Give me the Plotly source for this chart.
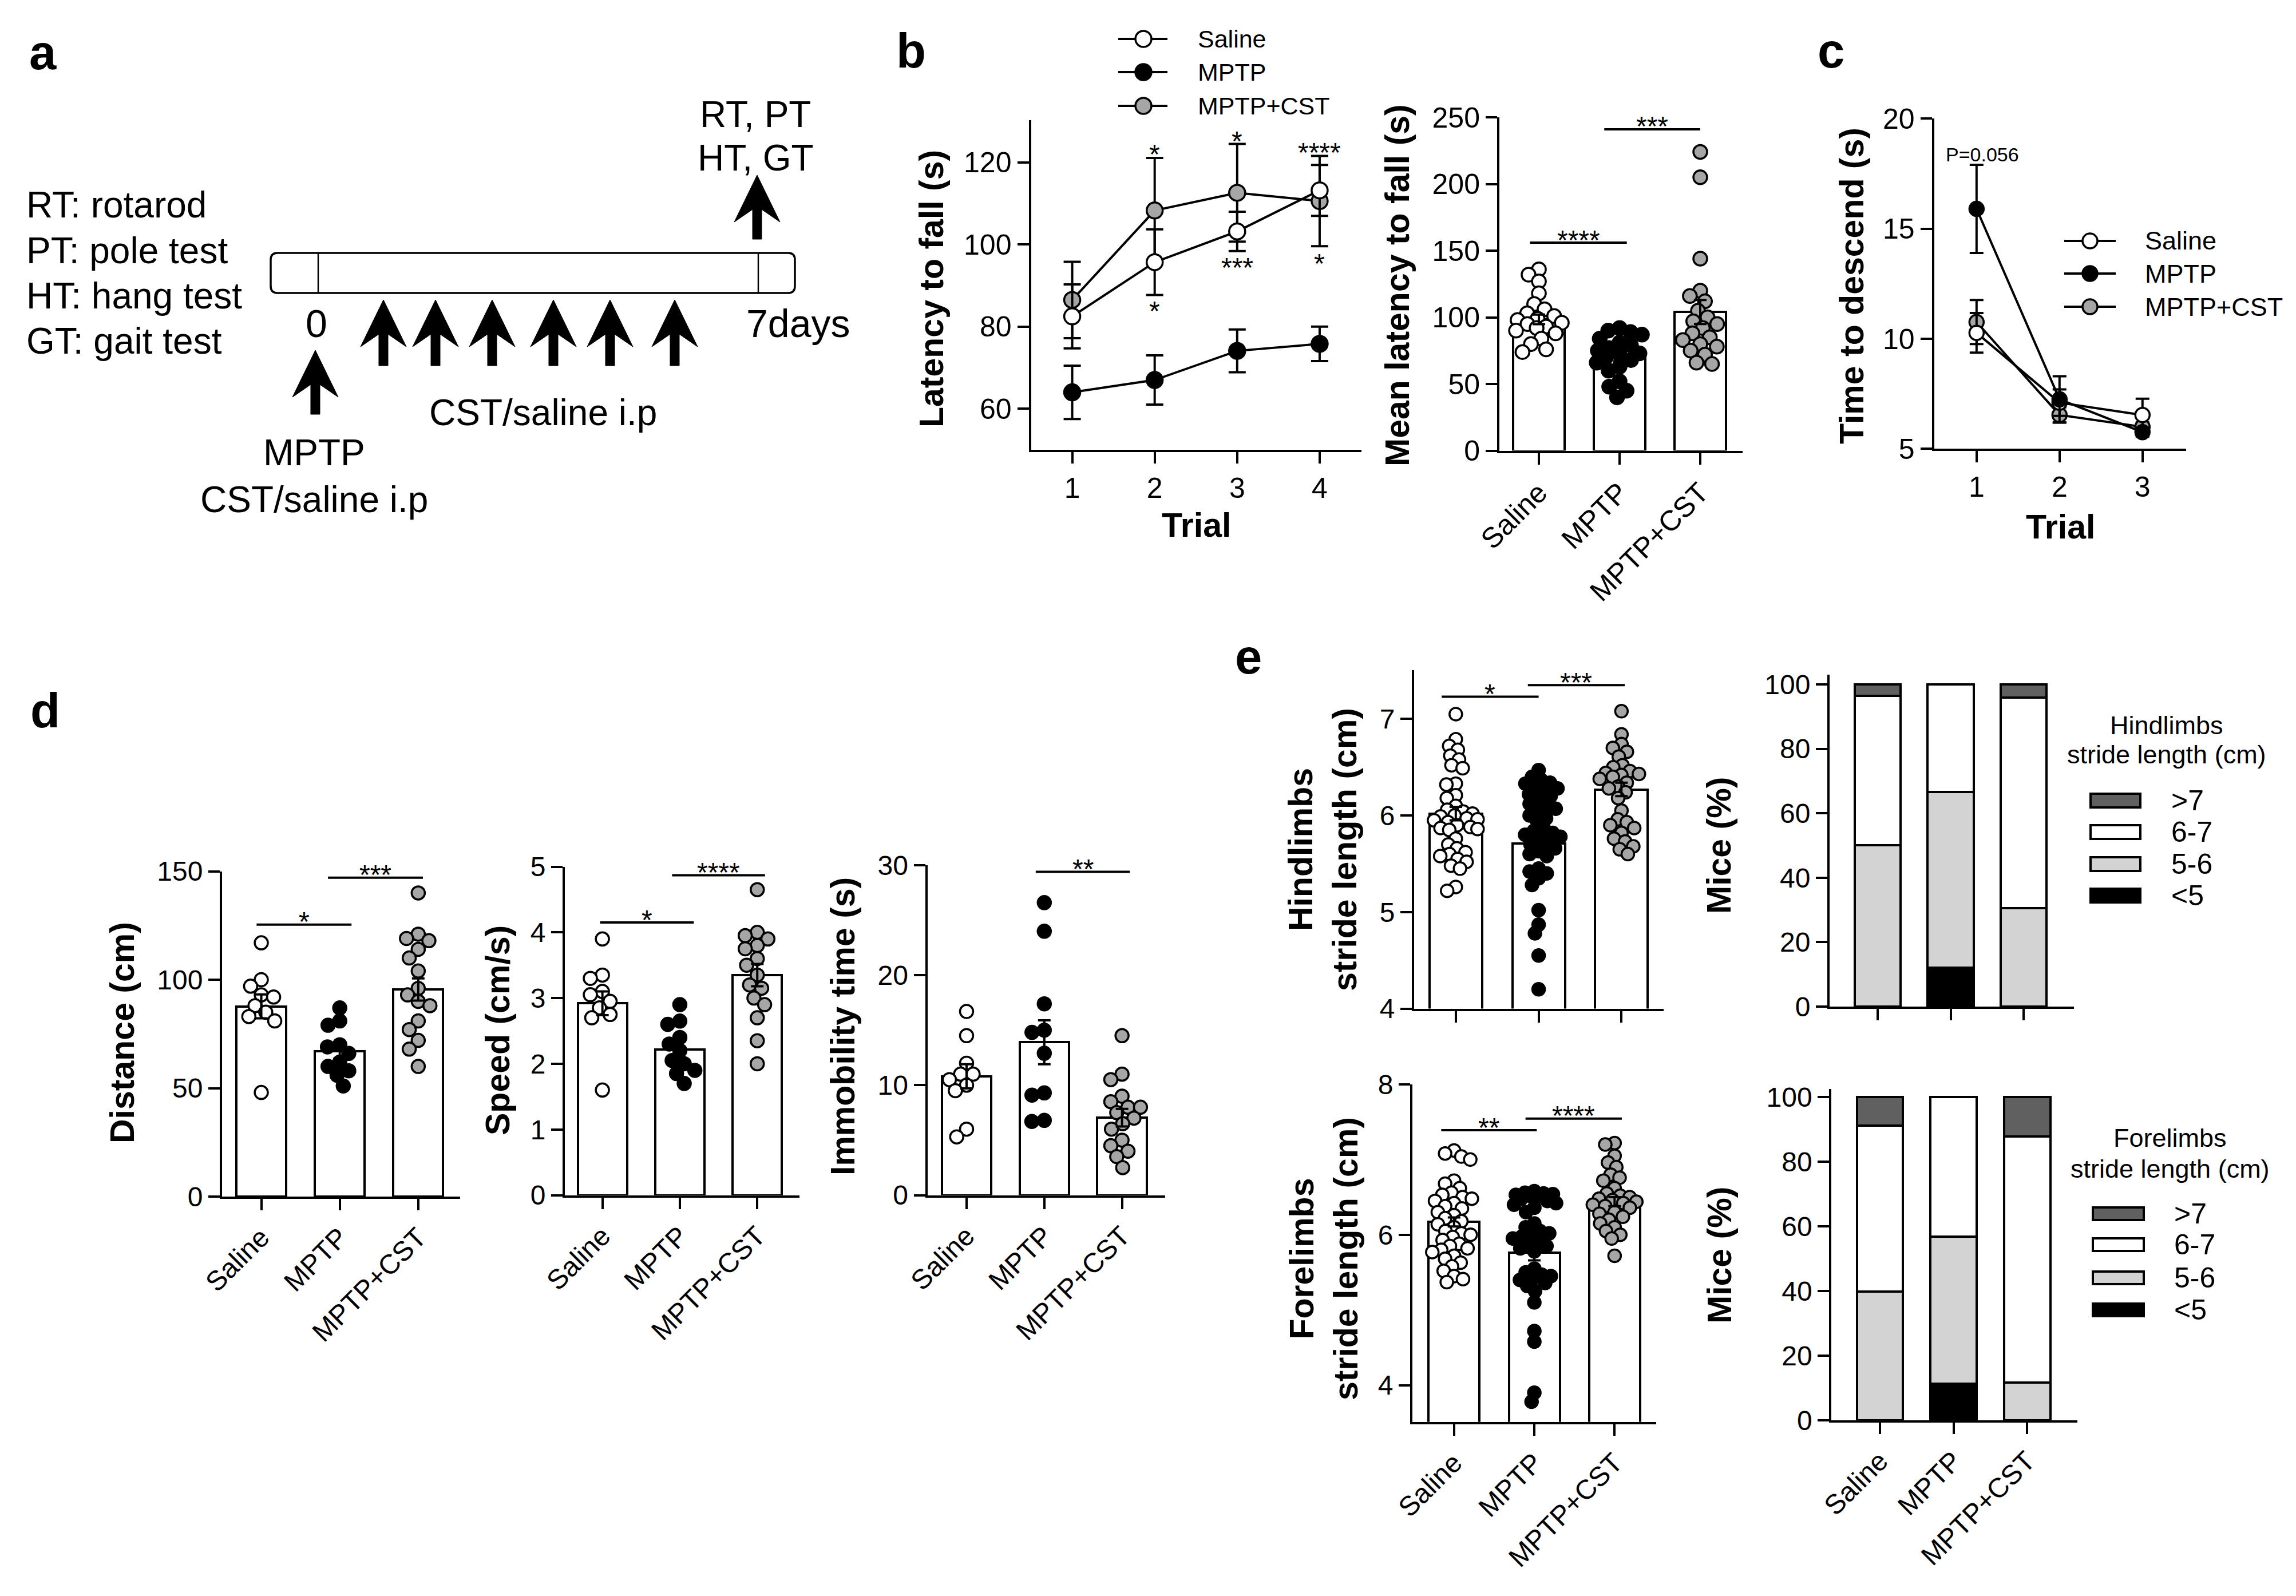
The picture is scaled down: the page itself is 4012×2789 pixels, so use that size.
import plotly.graph_objects as go

W, H = 4012, 2789
FONT = "Liberation Sans, Arial, Helvetica, sans-serif"
GRAY = "#a6a6a6"
LW = 4

GROUPS = ["Saline", "MPTP", "MPTP+CST"]
GROUP_FILL = ["white", "black", GRAY]
GROUP_POS = [0, 1, 2]

# ---------------- (b) rotarod ----------------
TRIALS_B = [1, 2, 3, 4]
ROT_SALINE = [82.5, 95.7, 103.2, 113.2]
ROT_SALINE_SEM = [7.8, 8.0, 4.8, 6.2]
ROT_MPTP = [64.0, 67.0, 74.1, 75.8]
ROT_MPTP_SEM = [6.5, 6.0, 5.2, 4.2]
ROT_CST = [86.5, 108.3, 112.6, 110.6]
ROT_CST_SEM = [9.3, 12.8, 11.9, 11.0]
ROT_STAR_TRIAL = [2, 2, 3, 3, 4, 4]
ROT_STAR_Y = [123.3, 85.0, 126.4, 95.7, 123.7, 96.7]
ROT_STAR_TEXT = ["*", "*", "*", "***", "****", "*"]

MEANLAT_SALINE = [136, 132, 127, 118, 110, 106, 103, 101, 99, 98, 96, 95, 93, 92, 90, 88, 84, 80, 76, 74]
MEANLAT_MPTP = [92, 90, 89, 87, 84, 81, 79, 77, 75, 73, 72, 70, 68, 66, 63, 60, 52, 48, 45, 40]
MEANLAT_CST = [224, 205, 144, 120, 116, 112, 105, 100, 97, 95, 92, 88, 85, 83, 80, 78, 75, 72, 66, 65]
MEANLAT_BAR = [98.5, 70.0, 104.0]
MEANLAT_SEM = [3.6, 2.9, 9.0]
MEANLAT_SIG = [(-0.11, 1.09, 156, "****"), (0.81, 2.0, 241, "***")]

# ---------------- (c) pole test ----------------
TRIALS_C = [1, 2, 3]
POLE_SALINE = [10.27, 7.10, 6.54]
POLE_SALINE_SEM = [0.90, 0.60, 0.74]
POLE_MPTP = [15.90, 7.25, 5.76]
POLE_MPTP_SEM = [2.00, 1.05, 0.20]
POLE_CST = [10.76, 6.54, 6.00]
POLE_CST_SEM = [1.00, 0.35, 0.20]

# ---------------- (d) open field ----------------
DIST_SALINE = [117, 100, 97, 93, 92, 88, 85, 83, 81, 48]
DIST_MPTP = [87, 81, 79, 70, 69, 66, 62, 60, 58, 56, 51]
DIST_CST = [140, 121, 119, 118, 114, 110, 104, 96, 93, 90, 88, 81, 77, 72, 68, 60]
DIST_BAR = [87.7, 67.0, 95.5]
DIST_SEM = [5.5, 3.3, 5.1]
DIST_SIG = [(-0.06, 1.15, 125.4, "*"), (0.85, 2.06, 147, "***")]

SPEED_SALINE = [3.90, 3.35, 3.30, 3.10, 3.05, 2.95, 2.85, 2.75, 2.70, 1.60]
SPEED_MPTP = [2.90, 2.65, 2.60, 2.40, 2.30, 2.20, 2.05, 2.00, 1.90, 1.85, 1.70]
SPEED_CST = [4.65, 4.00, 3.95, 3.90, 3.80, 3.75, 3.60, 3.50, 3.35, 3.20, 3.15, 3.00, 2.90, 2.70, 2.35, 2.00]
SPEED_BAR = [2.92, 2.22, 3.35]
SPEED_SEM = [0.18, 0.12, 0.17]
SPEED_SIG = [(-0.03, 1.18, 4.15, "*"), (0.90, 2.10, 4.87, "****")]

IMMOB_SALINE = [16.7, 14.5, 12.0, 11.0, 11.0, 10.5, 10.0, 9.5, 6.0, 5.3]
IMMOB_MPTP = [26.6, 24.0, 17.4, 15.0, 14.8, 12.9, 9.3, 9.1, 6.8, 6.7]
IMMOB_CST = [14.5, 11.0, 10.5, 9.0, 8.5, 8.0, 8.0, 7.5, 7.0, 6.5, 6.0, 5.0, 4.5, 4.0, 3.5, 2.5]
IMMOB_BAR = [10.8, 13.9, 7.05]
IMMOB_SEM = [1.1, 2.0, 0.8]
IMMOB_SIG = [(0.89, 2.10, 29.4, "**")]

# ---------------- (e) gait ----------------
HIND_SALINE = [7.05, 6.79, 6.72, 6.68, 6.62, 6.58, 6.52, 6.49, 6.33, 6.32, 6.21, 6.18, 6.10, 6.06,
               6.04, 6.02, 6.00, 5.99, 5.97, 5.96, 5.95, 5.93, 5.90, 5.88, 5.87, 5.86, 5.85, 5.76,
               5.70, 5.66, 5.62, 5.60, 5.58, 5.55, 5.52, 5.48, 5.45, 5.26, 5.22]
HIND_MPTP = [6.47, 6.40, 6.37, 6.34, 6.33, 6.30, 6.28, 6.25, 6.22, 6.20, 6.15, 6.12, 6.10, 6.07,
             6.03, 6.00, 5.97, 5.93, 5.86, 5.84, 5.82, 5.80, 5.78, 5.75, 5.72, 5.70, 5.66, 5.63,
             5.60, 5.58, 5.45, 5.42, 5.40, 5.35, 5.28, 5.02, 4.87, 4.78, 4.55, 4.20]
HIND_CST = [7.08, 6.84, 6.74, 6.70, 6.66, 6.61, 6.52, 6.50, 6.46, 6.44, 6.43, 6.42, 6.40, 6.38,
            6.34, 6.30, 6.28, 6.24, 6.18, 6.05, 5.96, 5.93, 5.90, 5.87, 5.82, 5.76, 5.73, 5.68,
            5.65, 5.60]
HIND_BAR = [6.02, 5.71, 6.27]
HIND_SEM = [0.07, 0.08, 0.07]
HIND_SIG = [(-0.17, 1.0, 7.23, "*"), (0.87, 2.04, 7.35, "***")]

FORE_SALINE = [7.12, 7.08, 7.04, 7.00, 6.72, 6.68, 6.62, 6.56, 6.53, 6.50, 6.48, 6.45, 6.42, 6.38,
               6.35, 6.30, 6.26, 6.22, 6.18, 6.14, 6.10, 6.05, 6.02, 6.00, 5.97, 5.93, 5.88, 5.85,
               5.82, 5.80, 5.77, 5.72, 5.68, 5.63, 5.58, 5.52, 5.45, 5.41, 5.37]
FORE_MPTP = [6.58, 6.56, 6.55, 6.54, 6.53, 6.52, 6.50, 6.48, 6.45, 6.42, 6.40, 6.36, 6.30, 6.15,
             6.10, 6.05, 6.02, 6.00, 5.98, 5.95, 5.92, 5.88, 5.85, 5.82, 5.78, 5.55, 5.50, 5.47,
             5.45, 5.42, 5.40, 5.36, 5.32, 5.25, 5.10, 4.72, 4.58, 3.90, 3.78]
FORE_CST = [7.22, 7.20, 7.05, 6.96, 6.90, 6.80, 6.76, 6.72, 6.62, 6.55, 6.52, 6.50, 6.48, 6.46,
            6.44, 6.42, 6.40, 6.38, 6.36, 6.30, 6.28, 6.24, 6.20, 6.15, 6.10, 6.05, 6.00, 5.95, 5.72]
FORE_BAR = [6.17, 5.76, 6.44]
FORE_SEM = [0.06, 0.10, 0.06]
FORE_SIG = [(-0.16, 1.03, 7.39, "**"), (0.89, 2.09, 7.545, "****")]

STRIDE_BINS = [">7", "6-7", "5-6", "<5"]
STRIDE_COLORS = ["#606060", "white", "#d3d3d3", "black"]
HIND_PCT_GT7 = [3.5, 0.0, 4.1]
HIND_PCT_6_7 = [46.5, 33.4, 65.4]
HIND_PCT_5_6 = [50.0, 54.6, 30.5]
HIND_PCT_LT5 = [0.0, 12.0, 0.0]
FORE_PCT_GT7 = [8.8, 0.0, 12.3]
FORE_PCT_6_7 = [51.4, 43.2, 76.0]
FORE_PCT_5_6 = [39.8, 45.5, 11.7]
FORE_PCT_LT5 = [0.0, 11.3, 0.0]

# =====================================================================
fig = go.Figure()
layout = dict(template="none", width=W, height=H, autosize=False,
              margin=dict(l=0, r=0, t=0, b=0, pad=0),
              paper_bgcolor="white", plot_bgcolor="rgba(0,0,0,0)", showlegend=False,
              barmode="stack", font=dict(family=FONT, color="black"))
shapes = []
annotations = []
AX = {}


def P(x, y):
    return f"{x / W:.5f},{1 - y / H:.5f}"


def pann(text, x, y, size, xanchor="center", yanchor="middle", angle=0):
    annotations.append(dict(xref="paper", yref="paper", x=x / W, y=1 - y / H, text=text,
                            showarrow=False, textangle=angle, xanchor=xanchor, yanchor=yanchor,
                            font=dict(size=size, family=FONT, color="black")))


def axis(n, box, xr, yr, yticks, xticks, xtext=None, show_xlabels=True, tfont=48, xangle=0):
    l, t, r, b = box
    AX[n] = (box, xr, yr)
    s = "" if n == 1 else str(n)
    common = dict(showline=True, linewidth=LW, linecolor="black", ticks="outside", ticklen=20,
                  tickwidth=LW, tickcolor="black", showgrid=False, zeroline=False,
                  tickmode="array", fixedrange=True, automargin=False,
                  tickfont=dict(size=tfont, family=FONT, color="black"))
    layout["xaxis" + s] = dict(domain=[l / W, r / W], range=xr, anchor="y" + s,
                               tickvals=xticks, ticktext=xtext, showticklabels=show_xlabels,
                               tickangle=xangle, **common)
    layout["yaxis" + s] = dict(domain=[1 - b / H, 1 - t / H], range=yr, anchor="x" + s,
                               tickvals=yticks, **common)
    return "x" + s, "y" + s


def swarm(values, center, n, diam, spacing, maxhalf):
    box, xr, yr = AX[n]
    ppx = (box[2] - box[0]) / (xr[1] - xr[0])
    ppy = (box[3] - box[1]) / (yr[1] - yr[0])
    D = diam * spacing
    placed = []
    xs = [0.0] * len(values)
    order = sorted(range(len(values)), key=lambda i: -values[i])
    for i in order:
        yp = values[i] * ppy
        cands = [0.0]
        for xq, yq in placed:
            dy = abs(yp - yq)
            if dy < D:
                dx = (D * D - dy * dy) ** 0.5
                cands += [xq + dx, xq - dx]
        best = None
        for c in sorted(cands, key=lambda v: (abs(v), v)):
            if abs(c) > maxhalf:
                continue
            if all((c - xq) ** 2 + (yp - yq) ** 2 >= D * D - 1e-6 for xq, yq in placed):
                best = c
                break
        if best is None:
            grid = [maxhalf * k / 10.0 for k in range(-10, 11)]
            best = max(grid, key=lambda c: min((c - xq) ** 2 + (yp - yq) ** 2 for xq, yq in placed))
        placed.append((best, yp))
        xs[i] = center + best / ppx
    return xs


def bar_panel(n, refs, bar, sem, pts, sig, diam, spacing, maxhalf, star_size=48):
    xa, ya = refs
    fig.add_bar(x=GROUP_POS, y=bar, width=0.635, xaxis=xa, yaxis=ya,
                marker=dict(color="white", line=dict(color="black", width=LW)))
    for g, vals in enumerate(pts):
        xs = swarm(vals, GROUP_POS[g], n, diam, spacing, maxhalf)
        fig.add_scatter(x=xs, y=vals, mode="markers", xaxis=xa, yaxis=ya, name=GROUPS[g],
                        marker=dict(size=diam, color=GROUP_FILL[g], line=dict(color="black", width=3.5)))
    fig.add_scatter(x=GROUP_POS, y=bar, mode="markers", xaxis=xa, yaxis=ya,
                    marker=dict(size=2, color="rgba(0,0,0,0)"),
                    error_y=dict(type="data", array=sem, color="black", thickness=LW, width=11))
    for (x0, x1, y, txt) in sig:
        shapes.append(dict(type="line", xref=xa, yref=ya, x0=x0, x1=x1, y0=y, y1=y,
                           line=dict(color="black", width=LW)))
        annotations.append(dict(xref=xa, yref=ya, x=(x0 + x1) / 2, y=y, text=txt, showarrow=False,
                                yanchor="middle", yshift=5,
                                font=dict(size=star_size, family=FONT, color="black")))


def mice_panel(refs, segs):
    xa, ya = refs
    for vals, col, name in reversed(list(zip(segs, STRIDE_COLORS, STRIDE_BINS))):
        fig.add_bar(x=GROUP_POS, y=vals, width=0.63, xaxis=xa, yaxis=ya, name=name,
                    marker=dict(color=col, line=dict(color="black", width=LW)))


# ---------------- axes ----------------
bl = axis(1, (1801.5, 210, 2379, 786), [0.5, 4.507], [50, 130.3], [60, 80, 100, 120], TRIALS_B,
          [str(t) for t in TRIALS_B], tfont=50)
br = axis(2, (2620, 205, 3045, 787.6), [-0.49, 2.525], [0, 250], [0, 50, 100, 150, 200, 250],
          GROUP_POS, GROUPS, tfont=50, xangle=-45)
cc = axis(3, (3379.6, 207.3, 3820, 784.4), [0.488, 3.526], [5, 20], [5, 10, 15, 20], TRIALS_C,
          [str(t) for t in TRIALS_C], tfont=50)
dd = axis(4, (388, 1522.5, 803.5, 2091), [-0.5, 2.53], [0, 150], [0, 50, 100, 150], GROUP_POS,
          GROUPS, xangle=-45)
ds = axis(5, (987, 1514.5, 1397, 2088.5), [-0.485, 2.545], [0, 5], [0, 1, 2, 3, 4, 5], GROUP_POS,
          GROUPS, xangle=-45)
di = axis(6, (1620.5, 1512, 2035.6, 2088.5), [-0.504, 2.552], [0, 30], [0, 10, 20, 30], GROUP_POS,
          GROUPS, xangle=-45)
eh = axis(7, (2471, 1170.8, 2907.3, 1762.5), [-0.503, 2.511], [4, 7.507], [4, 5, 6, 7], GROUP_POS,
          GROUPS, show_xlabels=False)
ehm = axis(8, (3197, 1179, 3623.6, 1759), [-0.662, 2.689], [0, 103], [0, 20, 40, 60, 80, 100],
           GROUP_POS, GROUPS, show_xlabels=False)
ef = axis(9, (2468, 1894.9, 2894, 2484.8), [-0.519, 2.518], [3.512, 8], [4, 6, 8], GROUP_POS,
          GROUPS, xangle=-45)
efm = axis(10, (3200.3, 1902.7, 3629.8, 2481.8), [-0.659, 2.683], [0, 102.5], [0, 20, 40, 60, 80, 100],
           GROUP_POS, GROUPS, xangle=-45)

# ---------------- b left: line chart ----------------
for vals, sem, fill in [(ROT_MPTP, ROT_MPTP_SEM, "black"), (ROT_CST, ROT_CST_SEM, GRAY),
                        (ROT_SALINE, ROT_SALINE_SEM, "white")]:
    fig.add_scatter(x=TRIALS_B, y=vals, mode="lines+markers", xaxis=bl[0], yaxis=bl[1],
                    line=dict(color="black", width=LW),
                    marker=dict(size=28, color=fill, line=dict(color="black", width=3.5)),
                    error_y=dict(type="data", array=sem, color="black", thickness=LW, width=15))
for t, y, s in zip(ROT_STAR_TRIAL, ROT_STAR_Y, ROT_STAR_TEXT):
    annotations.append(dict(xref=bl[0], yref=bl[1], x=t, y=y, text=s, showarrow=False,
                            yanchor="middle", yshift=-9, font=dict(size=48, family=FONT, color="black")))

# ---------------- b right ----------------
bar_panel(2, br, MEANLAT_BAR, MEANLAT_SEM, [MEANLAT_SALINE, MEANLAT_MPTP, MEANLAT_CST], MEANLAT_SIG,
          24, 0.85, 40)

# ---------------- c ----------------
for vals, sem, fill in [(POLE_CST, POLE_CST_SEM, GRAY), (POLE_SALINE, POLE_SALINE_SEM, "white"),
                        (POLE_MPTP, POLE_MPTP_SEM, "black")]:
    fig.add_scatter(x=TRIALS_C, y=vals, mode="lines+markers", xaxis=cc[0], yaxis=cc[1],
                    line=dict(color="black", width=LW),
                    marker=dict(size=25, color=fill, line=dict(color="black", width=3.5)),
                    error_y=dict(type="data", array=sem, color="black", thickness=LW, width=12))
annotations.append(dict(xref=cc[0], yref=cc[1], x=1.07, y=18.38, text="P=0.056", showarrow=False,
                        yanchor="middle", font=dict(size=34, family=FONT, color="black")))

# ---------------- d ----------------
bar_panel(4, dd, DIST_BAR, DIST_SEM, [DIST_SALINE, DIST_MPTP, DIST_CST], DIST_SIG, 23, 0.95, 40)
bar_panel(5, ds, SPEED_BAR, SPEED_SEM, [SPEED_SALINE, SPEED_MPTP, SPEED_CST], SPEED_SIG, 23, 0.95, 40)
bar_panel(6, di, IMMOB_BAR, IMMOB_SEM, [IMMOB_SALINE, IMMOB_MPTP, IMMOB_CST], IMMOB_SIG, 23, 0.95, 40)

# ---------------- e ----------------
bar_panel(7, eh, HIND_BAR, HIND_SEM, [HIND_SALINE, HIND_MPTP, HIND_CST], HIND_SIG, 22, 0.75, 38)
bar_panel(9, ef, FORE_BAR, FORE_SEM, [FORE_SALINE, FORE_MPTP, FORE_CST], FORE_SIG, 22, 0.75, 38)
mice_panel(ehm, [HIND_PCT_GT7, HIND_PCT_6_7, HIND_PCT_5_6, HIND_PCT_LT5])
mice_panel(efm, [FORE_PCT_GT7, FORE_PCT_6_7, FORE_PCT_5_6, FORE_PCT_LT5])

# ---------------- axis titles ----------------
YT = 59
pann("<b>Latency to fall (s)</b>", 1628, 505, YT, angle=-90)
pann("<b>Trial</b>", 2090, 918, YT)
pann("<b>Mean latency to fall (s)</b>", 2442, 499, YT, angle=-90)
pann("<b>Time to descend (s)</b>", 3236, 500, YT, angle=-90)
pann("<b>Trial</b>", 3600, 921, YT)
pann("<b>Distance (cm)</b>", 214, 1805, YT, angle=-90)
pann("<b>Speed (cm/s)</b>", 870, 1801, YT, angle=-90)
pann("<b>Immobility time (s)</b>", 1473, 1794, YT, angle=-90)
pann("<b>Hindlimbs</b><br><b>stride length (cm)</b>", 2311, 1485, YT, angle=-90)
pann("<b>Mice (%)</b>", 3004, 1478, YT, angle=-90)
pann("<b>Forelimbs</b><br><b>stride length (cm)</b>", 2313, 2200, YT, angle=-90)
pann("<b>Mice (%)</b>", 3005, 2194, YT, angle=-90)

# ---------------- panel letters ----------------
LET = 85
for letter, x, base in [("a", 49, 121), ("b", 1564, 118), ("c", 3174, 118), ("d", 51, 1271), ("e", 2156, 1177)]:
    pann(f"<b>{letter}</b>", x, base - 0.3465 * LET, LET, xanchor="left")

# ---------------- legends (b and c) ----------------
for (lab, fill), y in zip(zip(GROUPS, GROUP_FILL), [68, 126, 185]):
    shapes.append(dict(type="line", xref="paper", yref="paper", x0=1954 / W, x1=2040 / W,
                       y0=1 - y / H, y1=1 - y / H, line=dict(color="black", width=LW)))
    shapes.append(dict(type="circle", xref="paper", yref="paper", x0=(1998 - 14) / W, x1=(1998 + 14) / W,
                       y0=1 - (y + 14) / H, y1=1 - (y - 14) / H, fillcolor=fill,
                       line=dict(color="black", width=3.5)))
    pann(lab, 2091, y, 43, xanchor="left")
for (lab, fill), y in zip(zip(GROUPS, GROUP_FILL), [421, 478, 536]):
    shapes.append(dict(type="line", xref="paper", yref="paper", x0=3607 / W, x1=3697 / W,
                       y0=1 - y / H, y1=1 - y / H, line=dict(color="black", width=LW)))
    shapes.append(dict(type="circle", xref="paper", yref="paper", x0=(3652 - 13) / W, x1=(3652 + 13) / W,
                       y0=1 - (y + 13) / H, y1=1 - (y - 13) / H, fillcolor=fill,
                       line=dict(color="black", width=3.5)))
    pann(lab, 3746, y, 45, xanchor="left")


# ---------------- legends (e stacked bars) ----------------
def stride_legend(title, tx, ty1, ty2, bx0, bx1, ys, textx, bh):
    pann(title[0], tx, ty1, 45)
    pann(title[1], tx, ty2, 45)
    for lab, col, y in zip(STRIDE_BINS, STRIDE_COLORS, ys):
        shapes.append(dict(type="rect", xref="paper", yref="paper", x0=bx0 / W, x1=bx1 / W,
                           y0=1 - (y + bh / 2) / H, y1=1 - (y - bh / 2) / H, fillcolor=col,
                           line=dict(color="black", width=LW)))
        pann(lab, textx, y, 50, xanchor="left")


stride_legend(("Hindlimbs", "stride length (cm)"), 3786, 1267, 1318, 3653, 3740,
              [1399, 1454, 1510, 1565], 3792, 24)
stride_legend(("Forelimbs", "stride length (cm)"), 3792, 1988, 2042, 3657, 3746,
              [2121, 2175, 2233, 2289], 3797, 22)

# ---------------- panel a: timeline schematic ----------------
for i, txt in enumerate(["RT: rotarod", "PT: pole test", "HT: hang test", "GT: gait test"]):
    pann(txt, 44, [358, 438, 517, 596][i], 64, xanchor="left")

l, t, r, b, rad = 473, 442, 1389, 512, 12
shapes.append(dict(type="path", xref="paper", yref="paper", line=dict(color="black", width=3.5),
                   path=(f"M {P(l + rad, t)} L {P(r - rad, t)} Q {P(r, t)} {P(r, t + rad)} "
                         f"L {P(r, b - rad)} Q {P(r, b)} {P(r - rad, b)} L {P(l + rad, b)} "
                         f"Q {P(l, b)} {P(l, b - rad)} L {P(l, t + rad)} Q {P(l, t)} {P(l + rad, t)} Z")))
for xv in [556, 1325]:
    shapes.append(dict(type="line", xref="paper", yref="paper", x0=xv / W, x1=xv / W,
                       y0=1 - t / H, y1=1 - b / H, line=dict(color="black", width=2.5)))


def arrow(cx, ty, by):
    pts = [(cx, ty), (cx + 40, ty + 82), (cx + 8, ty + 60), (cx + 8, by), (cx - 8, by),
           (cx - 8, ty + 60), (cx - 40, ty + 82)]
    shapes.append(dict(type="path", xref="paper", yref="paper", fillcolor="black",
                       line=dict(color="black", width=1),
                       path="M " + " L ".join(P(x, y) for x, y in pts) + " Z"))


for cx in [670, 761, 860, 967, 1066, 1179]:
    arrow(cx, 524, 639)
arrow(551, 612, 724)
arrow(1323, 306, 418)

pann("0", 553, 565, 68)
pann("7days", 1302, 565, 68, xanchor="left")
pann("RT, PT", 1320, 200, 64)
pann("HT, GT", 1320, 276, 64)
pann("CST/saline i.p", 949, 721, 64)
pann("MPTP", 549, 791, 64)
pann("CST/saline i.p", 549, 873, 64)

layout["shapes"] = shapes
layout["annotations"] = annotations
fig.update_layout(**layout)
fig.write_html("out.html", config={"displayModeBar": False, "responsive": False},
               post_script="document.body.style.margin='0';document.body.style.overflow='hidden';")
